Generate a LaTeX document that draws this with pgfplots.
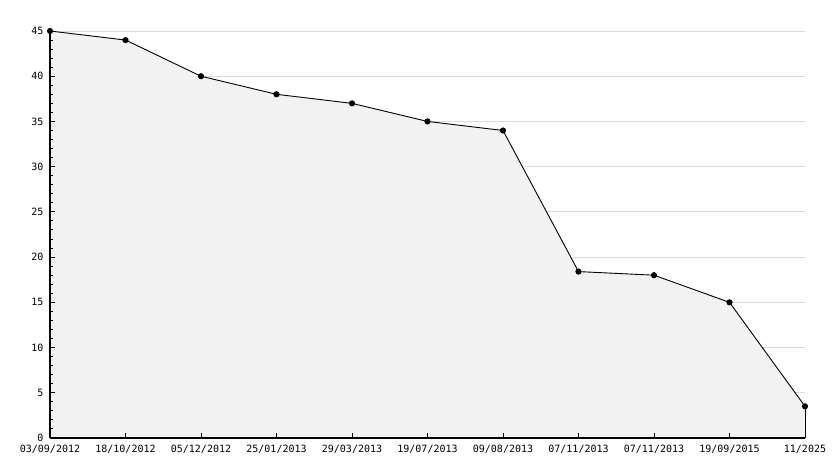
\documentclass[border=0pt]{standalone}
\usepackage{fontspec}
\setmainfont{DejaVu Sans Mono}
\usepackage{pgfplots}
\pgfplotsset{compat=1.18}
\definecolor{areafill}{HTML}{F2F2F2}
\definecolor{gridgray}{HTML}{DCDCDC}

\begin{document}
\begin{tikzpicture}
\useasboundingbox (-50bp,-30bp) rectangle (784bp,438bp);
\begin{axis}[
    at={(0,0)}, anchor=south west,
    scale only axis,
    width=755bp, height=407bp,
    xmin=0, xmax=10,
    ymin=0, ymax=45,
    axis on top,
    axis x line=bottom,
    axis y line=left,
    axis line style={-, black, line width=1.2bp},
    tick align=inside,
    xtick={0,...,10},
    xticklabels={03/09/2012,18/10/2012,05/12/2012,25/01/2013,29/03/2013,19/07/2013,09/08/2013,07/11/2013,07/11/2013,19/09/2015,11/2025},
    ytick={0,5,...,45},
    minor ytick={0,...,45},
    major tick length=5bp,
    minor tick length=3bp,
    every tick/.style={black, line width=1bp},
    tick label style={font=\fontsize{10bp}{12bp}\selectfont},
    /pgf/number format/assume math mode=true,
    xticklabel style={yshift=-4bp},
    yticklabel style={xshift=-3bp},
    clip=false,
]
% horizontal grid lines, hidden by the area where it covers them
\pgfplotsinvokeforeach{5,10,...,45}{
    \addplot[gridgray, line width=1bp] coordinates {(0,#1) (10,#1)};
}
\addplot[draw=none, fill=areafill] coordinates {
    (0,45) (1,44) (2,40) (3,38) (4,37) (5,35) (6,34) (7,18.4) (8,18) (9,15) (10,3.5)
} \closedcycle;
\addplot[black, line width=0.9bp] coordinates {(10,0) (10,3.5)};
\addplot[black, line width=0.9bp, mark=*, mark size=2.6bp] coordinates {
    (0,45) (1,44) (2,40) (3,38) (4,37) (5,35) (6,34) (7,18.4) (8,18) (9,15) (10,3.5)
};
\end{axis}
\end{tikzpicture}
\end{document}
